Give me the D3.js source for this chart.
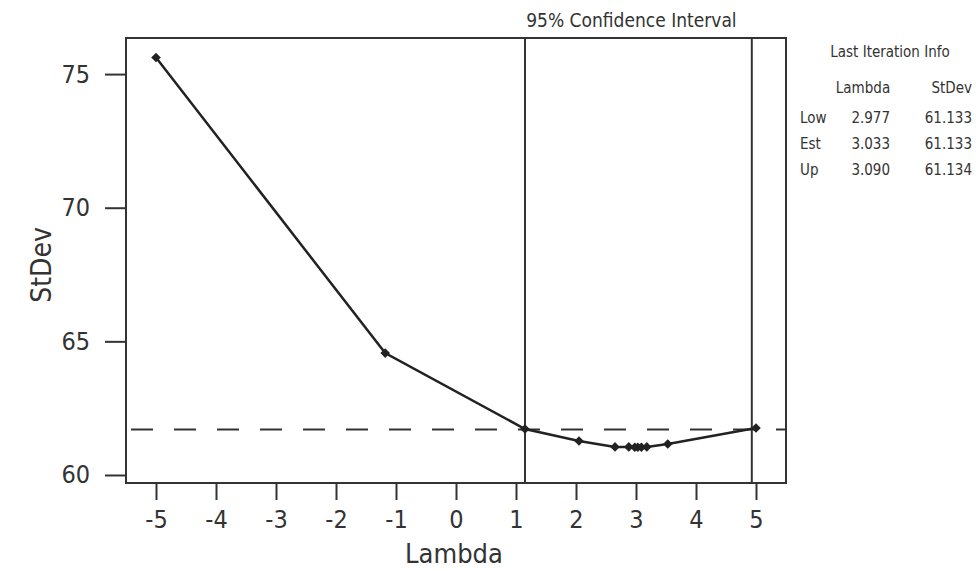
<!DOCTYPE html>
<html>
<head>
<meta charset="utf-8">
<script src="https://cdn.jsdelivr.net/npm/d3@7"></script>
<style>
  body { margin: 0; background: #fff; }
  svg text { font-family: "DejaVu Sans Condensed", "DejaVu Sans", sans-serif; font-stretch: condensed; fill: #333; }
</style>
</head>
<body>
<svg id="chart"></svg>
<script>
// iteration points of the Box-Cox search
var lambdas = [-5, -1.18, 1.15, 2.05, 2.65, 2.88, 2.98, 3.03, 3.09, 3.18, 3.53, 5.0];
var stdevs  = [75.62, 64.56, 61.72, 61.27, 61.05, 61.05, 61.04, 61.04, 61.04, 61.05, 61.16, 61.76];

var ciBounds = [1.15, 4.93];   // 95% confidence interval on lambda
var ciStDev = 61.7;            // dashed cut-off line

var xTicks = [-5, -4, -3, -2, -1, 0, 1, 2, 3, 4, 5];
var yTicks = [60, 65, 70, 75];

var tableRows = ["Low", "Est", "Up"];
var tableLambda = ["2.977", "3.033", "3.090"];
var tableStDev = ["61.133", "61.133", "61.134"];

var width = 976, height = 571;
var svg = d3.select("#chart")
            .attr("width", width)
            .attr("height", height);

var plot = { left: 126, right: 786, top: 38, bottom: 483 };

var xScale = d3.scaleLinear()
               .domain([-5.5, 5.5])
               .range([plot.left, plot.right]);

var yScale = d3.scaleLinear()
               .domain([59.7, 76.35])
               .range([plot.bottom, plot.top]);

// axes (plain hyphen for negatives, as in the original)
var xAxis = d3.axisBottom(xScale)
              .tickValues(xTicks)
              .tickSize(17)
              .tickSizeOuter(0)
              .tickPadding(10)
              .tickFormat(d => String(d));

var gx = svg.append("g")
    .attr("transform", "translate(0," + plot.bottom + ")")
    .call(xAxis);

var yAxis = d3.axisLeft(yScale)
              .tickValues(yTicks)
              .tickSize(21)
              .tickSizeOuter(0)
              .tickPadding(15);

var gy = svg.append("g")
    .attr("transform", "translate(" + plot.left + ",0)")
    .call(yAxis);

[gx, gy].forEach(function(g) {
  g.select(".domain").remove();
  g.selectAll(".tick line").attr("stroke", "#333").attr("stroke-width", 2);
  g.selectAll(".tick text").attr("font-size", 25).attr("fill", "#333");
});

// frame
svg.append("rect")
    .attr("x", plot.left)
    .attr("y", plot.top)
    .attr("width", plot.right - plot.left)
    .attr("height", plot.bottom - plot.top)
    .attr("fill", "none")
    .attr("stroke", "#333")
    .attr("stroke-width", 2);

// confidence interval lines
svg.selectAll(".ci")
  .data(ciBounds)
  .enter()
  .append("line")
    .classed("ci", true)
    .attr("x1", d => xScale(d))
    .attr("x2", d => xScale(d))
    .attr("y1", plot.top)
    .attr("y2", plot.bottom)
    .attr("stroke", "#333")
    .attr("stroke-width", 2);

svg.append("line")
    .attr("x1", plot.left)
    .attr("x2", plot.right)
    .attr("y1", yScale(ciStDev))
    .attr("y2", yScale(ciStDev))
    .attr("stroke", "#333")
    .attr("stroke-width", 2)
    .attr("stroke-dasharray", "22,21")
    .attr("stroke-dashoffset", -5);

// curve
var points = lambdas.map((l, i) => ({ lambda: l, stdev: stdevs[i] }));

var line = d3.line()
             .x(d => xScale(d.lambda))
             .y(d => yScale(d.stdev));

svg.append("path")
    .datum(points)
    .attr("d", line)
    .attr("fill", "none")
    .attr("stroke", "#222")
    .attr("stroke-width", 2.5);

svg.selectAll(".pt")
  .data(points)
  .enter()
  .append("path")
    .classed("pt", true)
    .attr("d", d3.symbol().type(d3.symbolSquare).size(46))
    .attr("transform", d => "translate(" + xScale(d.lambda) + "," + yScale(d.stdev) + ") rotate(45)")
    .attr("fill", "#222");

// titles
svg.append("text")
    .attr("x", (xScale(ciBounds[0]) + xScale(ciBounds[1])) / 2 - 7)
    .attr("y", 27)
    .attr("font-size", 19)
    .style("text-anchor", "middle")
    .text("95% Confidence Interval");

svg.append("text")
    .attr("x", 454)
    .attr("y", 563)
    .attr("font-size", 27)
    .style("text-anchor", "middle")
    .text("Lambda");

svg.append("text")
    .attr("transform", "translate(51,265) rotate(-90)")
    .attr("font-size", 28)
    .style("text-anchor", "middle")
    .text("StDev");

// last iteration table
var table = svg.append("g").attr("font-size", 15);

table.append("text")
    .attr("x", 890).attr("y", 57)
    .style("text-anchor", "middle")
    .text("Last Iteration Info");

table.append("text")
    .attr("x", 863).attr("y", 93)
    .style("text-anchor", "middle")
    .text("Lambda");

table.append("text")
    .attr("x", 972).attr("y", 93)
    .style("text-anchor", "end")
    .text("StDev");

tableRows.forEach(function(r, i) {
  var y = 123 + i * 26;
  table.append("text").attr("x", 800).attr("y", y).text(r);
  table.append("text").attr("x", 890).attr("y", y).style("text-anchor", "end").text(tableLambda[i]);
  table.append("text").attr("x", 972).attr("y", y).style("text-anchor", "end").text(tableStDev[i]);
});
</script>
</body>
</html>
